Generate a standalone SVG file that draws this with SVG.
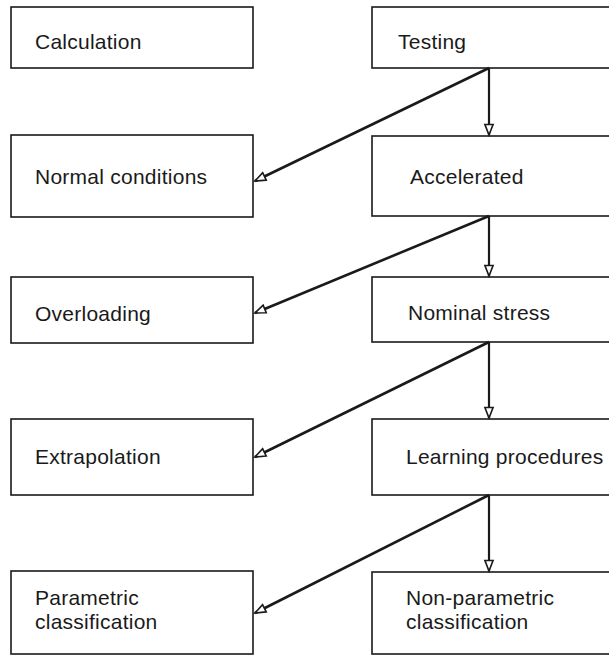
<svg xmlns="http://www.w3.org/2000/svg" width="609" height="656" viewBox="0 0 609 656">
<style>
.box{fill:#fff;stroke:#1a1a1a;stroke-width:1.6}
.lbl{font-family:"Liberation Sans",Arial,sans-serif;font-size:21px;letter-spacing:0.25px;fill:#1a1a1a}
.diag{stroke:#1a1a1a;stroke-width:2.6;fill:none}
.vert{stroke:#1a1a1a;stroke-width:2.2;fill:none}
</style>
<defs>
<marker id="ah" markerUnits="userSpaceOnUse" markerWidth="14" markerHeight="12" refX="10" refY="5" orient="auto" viewBox="0 0 12 10">
<path d="M1,1.5 L10,5 L1,8.5 Z" fill="#fff" stroke="#1a1a1a" stroke-width="1.4"/>
</marker>
</defs>
<rect width="609" height="656" fill="#fff"/>
<g id="calculation"><rect class="box" x="11" y="7" width="242" height="61"/><text class="lbl" x="35" y="49">Calculation</text></g>
<g id="testing"><rect class="box" x="372" y="7" width="245" height="61"/><text class="lbl" x="398" y="49">Testing</text></g>
<g id="normal"><rect class="box" x="11" y="135" width="242" height="82"/><text class="lbl" x="35" y="184">Normal conditions</text></g>
<g id="accelerated"><rect class="box" x="372" y="136" width="245" height="80"/><text class="lbl" x="410" y="184">Accelerated</text></g>
<g id="overloading"><rect class="box" x="11" y="277" width="242" height="66"/><text class="lbl" x="35" y="321">Overloading</text></g>
<g id="nominal"><rect class="box" x="372" y="277" width="245" height="65"/><text class="lbl" x="408" y="320">Nominal stress</text></g>
<g id="extrapolation"><rect class="box" x="11" y="419" width="242" height="76"/><text class="lbl" x="35" y="464">Extrapolation</text></g>
<g id="learning"><rect class="box" x="372" y="419" width="245" height="76"/><text class="lbl" x="406" y="464">Learning procedures</text></g>
<g id="parametric"><rect class="box" x="11" y="571" width="242" height="83"/><text class="lbl" x="35" y="605">Parametric</text><text class="lbl" x="35" y="629">classification</text></g>
<g id="nonparametric"><rect class="box" x="372" y="572" width="245" height="82"/><text class="lbl" x="406" y="605">Non-parametric</text><text class="lbl" x="406" y="629">classification</text></g>
<g id="connectors">
<line class="diag" x1="489" y1="68" x2="255" y2="181" marker-end="url(#ah)"/>
<line class="vert" x1="489" y1="68" x2="489" y2="135" marker-end="url(#ah)"/>
<line class="diag" x1="489" y1="216" x2="255" y2="313" marker-end="url(#ah)"/>
<line class="vert" x1="489" y1="216" x2="489" y2="276" marker-end="url(#ah)"/>
<line class="diag" x1="489" y1="342" x2="255" y2="457" marker-end="url(#ah)"/>
<line class="vert" x1="489" y1="342" x2="489" y2="418" marker-end="url(#ah)"/>
<line class="diag" x1="489" y1="495" x2="255" y2="613" marker-end="url(#ah)"/>
<line class="vert" x1="489" y1="495" x2="489" y2="571" marker-end="url(#ah)"/>
</g>
</svg>
